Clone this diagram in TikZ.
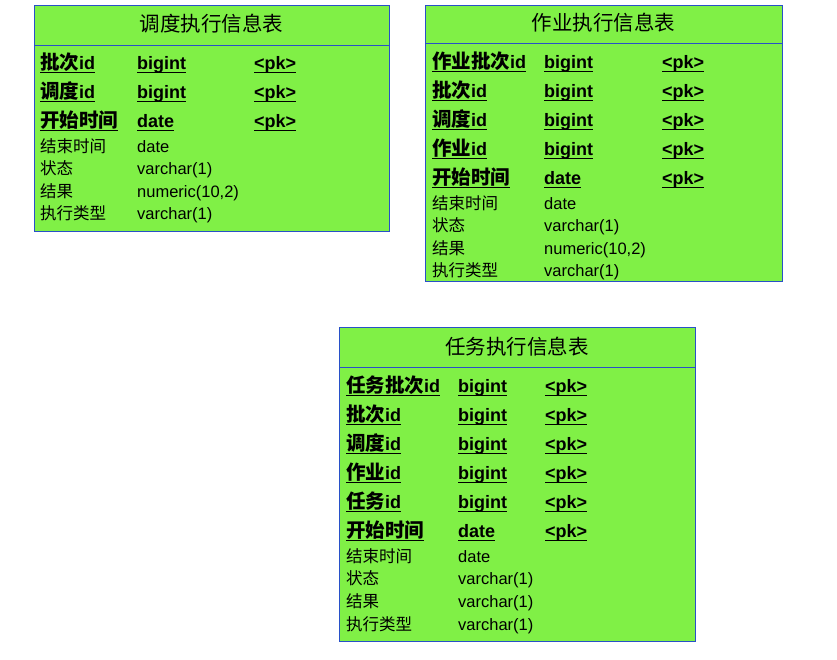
\documentclass[tikz,border=0pt]{standalone}
\usepackage{fontspec}
\setmainfont{Liberation Sans}
\newfontfamily\cjk{Noto Sans CJK SC}
\definecolor{tabfill}{RGB}{128,240,70}
\definecolor{tabline}{RGB}{40,80,200}
\newcommand\pkline[1]{\setbox0\hbox{#1}\rlap{\rule[-3.6pt]{\wd0}{1.1pt}}\box0}
\newcommand\bigcjk{\fontsize{19.5}{22}\selectfont\cjk}
\tikzset{
  tabbox/.style={draw=tabline, fill=tabfill, line width=0.9pt},
  headline/.style={draw=tabline, line width=0.9pt},
  ttl/.style={anchor=base, inner sep=0pt, font=\fontsize{20.5}{22}\selectfont\cjk},
  pkcell/.style={anchor=base west, inner sep=0pt, font=\fontsize{18}{20}\selectfont\bfseries},
  cell/.style={anchor=base west, inner sep=0pt, font=\fontsize{16.5}{18}\selectfont}
}
\begin{document}
\begin{tikzpicture}[x=1pt,y=-1pt]
  \useasboundingbox (0,0) rectangle (837,659);

  % 调度执行信息表
  \draw[tabbox] (34,5) rectangle (389,231);
  \draw[headline] (34,45) -- (389,45);
  \node[ttl] (ddtitle) at (211.5,31) {调度执行信息表};
  \node[pkcell] (ddn1) at (40,69)  {\pkline{{\bigcjk 批次}id}};
  \node[pkcell] (ddy1) at (137,69) {\pkline{bigint}};
  \node[pkcell] (ddk1) at (254,69) {\pkline{<pk>}};
  \node[pkcell] (ddn2) at (40,98)  {\pkline{{\bigcjk 调度}id}};
  \node[pkcell] (ddy2) at (137,98) {\pkline{bigint}};
  \node[pkcell] (ddk2) at (254,98) {\pkline{<pk>}};
  \node[pkcell] (ddn3) at (40,127)  {\pkline{{\bigcjk 开始时间}}};
  \node[pkcell] (ddy3) at (137,127) {\pkline{date}};
  \node[pkcell] (ddk3) at (254,127) {\pkline{<pk>}};
  \node[cell] (ddn4) at (40,152)  {\cjk 结束时间};
  \node[cell] (ddy4) at (137,152) {date};
  \node[cell] (ddn5) at (40,174)  {\cjk 状态};
  \node[cell] (ddy5) at (137,174) {varchar(1)};
  \node[cell] (ddn6) at (40,197)  {\cjk 结果};
  \node[cell] (ddy6) at (137,197) {numeric(10,2)};
  \node[cell] (ddn7) at (40,219)  {\cjk 执行类型};
  \node[cell] (ddy7) at (137,219) {varchar(1)};

  % 作业执行信息表
  \draw[tabbox] (425,5) rectangle (782,281);
  \draw[headline] (425,43) -- (782,43);
  \node[ttl] (zytitle) at (603.5,30) {作业执行信息表};
  \node[pkcell] (zyn1) at (432,68) {\pkline{{\bigcjk 作业批次}id}};
  \node[pkcell] (zyy1) at (544,68) {\pkline{bigint}};
  \node[pkcell] (zyk1) at (662,68) {\pkline{<pk>}};
  \node[pkcell] (zyn2) at (432,97) {\pkline{{\bigcjk 批次}id}};
  \node[pkcell] (zyy2) at (544,97) {\pkline{bigint}};
  \node[pkcell] (zyk2) at (662,97) {\pkline{<pk>}};
  \node[pkcell] (zyn3) at (432,126) {\pkline{{\bigcjk 调度}id}};
  \node[pkcell] (zyy3) at (544,126) {\pkline{bigint}};
  \node[pkcell] (zyk3) at (662,126) {\pkline{<pk>}};
  \node[pkcell] (zyn4) at (432,155) {\pkline{{\bigcjk 作业}id}};
  \node[pkcell] (zyy4) at (544,155) {\pkline{bigint}};
  \node[pkcell] (zyk4) at (662,155) {\pkline{<pk>}};
  \node[pkcell] (zyn5) at (432,184) {\pkline{{\bigcjk 开始时间}}};
  \node[pkcell] (zyy5) at (544,184) {\pkline{date}};
  \node[pkcell] (zyk5) at (662,184) {\pkline{<pk>}};
  \node[cell] (zyn6) at (432,209) {\cjk 结束时间};
  \node[cell] (zyy6) at (544,209) {date};
  \node[cell] (zyn7) at (432,231) {\cjk 状态};
  \node[cell] (zyy7) at (544,231) {varchar(1)};
  \node[cell] (zyn8) at (432,254) {\cjk 结果};
  \node[cell] (zyy8) at (544,254) {numeric(10,2)};
  \node[cell] (zyn9) at (432,276) {\cjk 执行类型};
  \node[cell] (zyy9) at (544,276) {varchar(1)};

  % 任务执行信息表
  \draw[tabbox] (339,327) rectangle (695,641);
  \draw[headline] (339,367) -- (695,367);
  \node[ttl] (rwtitle) at (517,354) {任务执行信息表};
  \node[pkcell] (rwn1) at (346,392) {\pkline{{\bigcjk 任务批次}id}};
  \node[pkcell] (rwy1) at (458,392) {\pkline{bigint}};
  \node[pkcell] (rwk1) at (545,392) {\pkline{<pk>}};
  \node[pkcell] (rwn2) at (346,421) {\pkline{{\bigcjk 批次}id}};
  \node[pkcell] (rwy2) at (458,421) {\pkline{bigint}};
  \node[pkcell] (rwk2) at (545,421) {\pkline{<pk>}};
  \node[pkcell] (rwn3) at (346,450) {\pkline{{\bigcjk 调度}id}};
  \node[pkcell] (rwy3) at (458,450) {\pkline{bigint}};
  \node[pkcell] (rwk3) at (545,450) {\pkline{<pk>}};
  \node[pkcell] (rwn4) at (346,479) {\pkline{{\bigcjk 作业}id}};
  \node[pkcell] (rwy4) at (458,479) {\pkline{bigint}};
  \node[pkcell] (rwk4) at (545,479) {\pkline{<pk>}};
  \node[pkcell] (rwn5) at (346,508) {\pkline{{\bigcjk 任务}id}};
  \node[pkcell] (rwy5) at (458,508) {\pkline{bigint}};
  \node[pkcell] (rwk5) at (545,508) {\pkline{<pk>}};
  \node[pkcell] (rwn6) at (346,537) {\pkline{{\bigcjk 开始时间}}};
  \node[pkcell] (rwy6) at (458,537) {\pkline{date}};
  \node[pkcell] (rwk6) at (545,537) {\pkline{<pk>}};
  \node[cell] (rwn7) at (346,562) {\cjk 结束时间};
  \node[cell] (rwy7) at (458,562) {date};
  \node[cell] (rwn8) at (346,584) {\cjk 状态};
  \node[cell] (rwy8) at (458,584) {varchar(1)};
  \node[cell] (rwn9) at (346,607) {\cjk 结果};
  \node[cell] (rwy9) at (458,607) {varchar(1)};
  \node[cell] (rwn10) at (346,630) {\cjk 执行类型};
  \node[cell] (rwy10) at (458,630) {varchar(1)};
\end{tikzpicture}
\end{document}
